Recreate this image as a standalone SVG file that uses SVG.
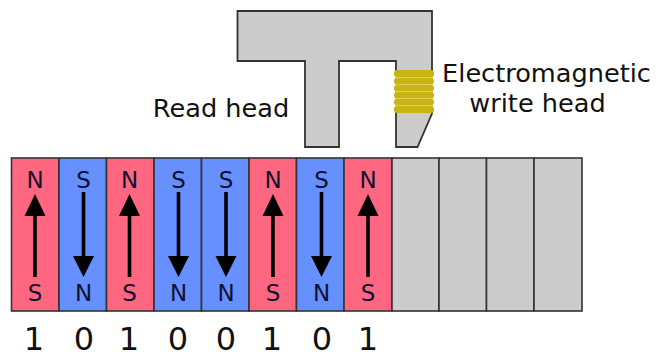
<svg xmlns="http://www.w3.org/2000/svg" width="667" height="352" viewBox="0 0 667 352">
<style>
text{font-family:"DejaVu Sans",Verdana,sans-serif;fill:#111;text-anchor:middle}
.c{stroke:#333;stroke-width:1.6}
.n{fill:#ff6680}.s{fill:#6690ff}.g{fill:#ccc}
.p{font-size:23px;fill:#101030}
.d{font-size:32px}
.l{font-size:25.600px}
.a{stroke:#000;stroke-width:3.6;fill:none}
.h{fill:#000}
.w{fill:#c8b414}
</style>
<rect width="667" height="352" fill="#fff"/>
<g id="head"><path d="M237.500 11H432V113.500L417.500 147H396V61H339V147H305V61H237.500Z" fill="#ccc" stroke="#333" stroke-width="1.800"/></g>
<g id="coil">
<rect x="395" y="71" width="38" height="41" fill="#e2da78"/>
<rect class="w" x="394" y="70" width="40" height="7.200" rx="3"/>
<rect class="w" x="394" y="77.900" width="40" height="6.300" rx="3"/>
<rect class="w" x="394" y="84.900" width="40" height="6.300" rx="3"/>
<rect class="w" x="394" y="91.900" width="40" height="6.300" rx="3"/>
<rect class="w" x="394" y="98.900" width="40" height="6.300" rx="3"/>
<rect class="w" x="394" y="105.900" width="40" height="7" rx="3"/>
</g>
<g id="labels">
<text class="l" x="221" y="117">Read head</text>
<text class="l" x="546.500" y="82">Electromagnetic</text>
<text class="l" x="537.500" y="112">write head</text>
</g>
<g id="cell1"><rect class="c n" x="11.500" y="158" width="47.500" height="153"/><text class="p" x="35" y="188">N</text><text class="p" x="35" y="301">S</text><path class="a" d="M35 277V210"/><path class="h" d="M35 194L45.500 216H24.500Z"/><text class="d" x="34" y="350">1</text></g>
<g id="cell2"><rect class="c s" x="59" y="158" width="47.500" height="153"/><text class="p" x="83.500" y="188">S</text><text class="p" x="83.500" y="301">N</text><path class="a" d="M83.500 192V260"/><path class="h" d="M83.500 277L73 256H94Z"/><text class="d" x="84" y="350">0</text></g>
<g id="cell3"><rect class="c n" x="106.500" y="158" width="47.500" height="153"/><text class="p" x="129.500" y="188">N</text><text class="p" x="129.500" y="301">S</text><path class="a" d="M129.500 277V210"/><path class="h" d="M129.500 194L140 216H119Z"/><text class="d" x="129" y="350">1</text></g>
<g id="cell4"><rect class="c s" x="154" y="158" width="47.500" height="153"/><text class="p" x="178.500" y="188">S</text><text class="p" x="178.500" y="301">N</text><path class="a" d="M178.500 192V260"/><path class="h" d="M178.500 277L168 256H189Z"/><text class="d" x="178" y="350">0</text></g>
<g id="cell5"><rect class="c s" x="201.500" y="158" width="47.500" height="153"/><text class="p" x="226" y="188">S</text><text class="p" x="226" y="301">N</text><path class="a" d="M226 192V260"/><path class="h" d="M226 277L215.500 256H236.500Z"/><text class="d" x="226" y="350">0</text></g>
<g id="cell6"><rect class="c n" x="249" y="158" width="47.500" height="153"/><text class="p" x="273" y="188">N</text><text class="p" x="273" y="301">S</text><path class="a" d="M273 277V210"/><path class="h" d="M273 194L283.500 216H262.500Z"/><text class="d" x="272" y="350">1</text></g>
<g id="cell7"><rect class="c s" x="296.500" y="158" width="47.500" height="153"/><text class="p" x="321.500" y="188">S</text><text class="p" x="321.500" y="301">N</text><path class="a" d="M321.500 192V260"/><path class="h" d="M321.500 277L311 256H332Z"/><text class="d" x="322" y="350">0</text></g>
<g id="cell8"><rect class="c n" x="344" y="158" width="48" height="153"/><text class="p" x="368" y="188">N</text><text class="p" x="368" y="301">S</text><path class="a" d="M368 277V210"/><path class="h" d="M368 194L378.500 216H357.500Z"/><text class="d" x="368" y="350">1</text></g>
<g id="cell9"><rect class="c g" x="392" y="158" width="47" height="153"/></g>
<g id="cell10"><rect class="c g" x="439" y="158" width="47.500" height="153"/></g>
<g id="cell11"><rect class="c g" x="486.500" y="158" width="47.500" height="153"/></g>
<g id="cell12"><rect class="c g" x="534" y="158" width="48" height="153"/></g>
<g id="connectors"></g>
</svg>
